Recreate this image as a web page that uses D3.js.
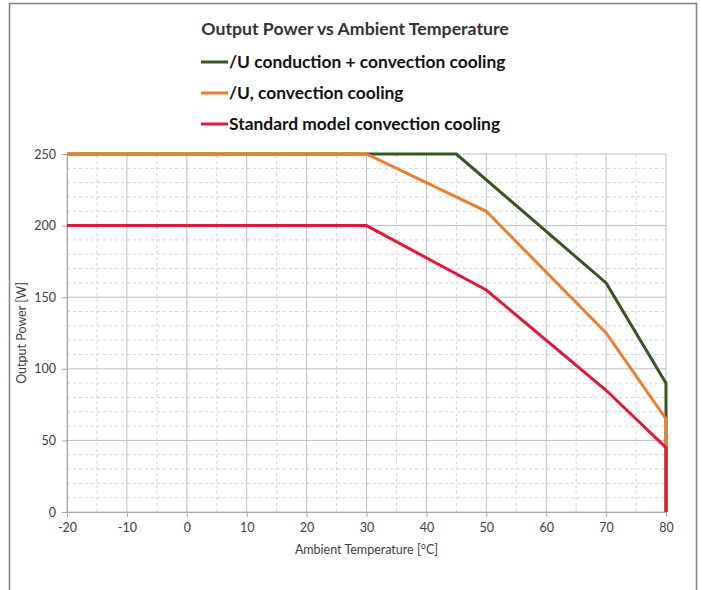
<!DOCTYPE html>
<html>
<head>
<meta charset="utf-8">
<script src="https://cdn.jsdelivr.net/npm/d3@7"></script>
<style>
  body { margin: 0; background: #fff; }
  text { font-family: Lato, "Open Sans", sans-serif; }
</style>
</head>
<body>
<div id="chart"></div>
<script>
// series values
var seriesNames = ['/U conduction + convection cooling', '/U, convection cooling', 'Standard model convection cooling'];
var seriesColors = ['#375623', '#ed7d31', '#e3173a'];
var greenTemp = [-20, 45, 70, 80, 80];
var greenPower = [250, 250, 160, 90, 0];
var orangeTemp = [-20, 30, 50, 70, 80, 80];
var orangePower = [250, 250, 210, 125, 65, 0];
var redTemp = [-20, 30, 50, 70, 80, 80];
var redPower = [200, 200, 155, 85, 45, 0];
var xTicks = [-20, -10, 0, 10, 20, 30, 40, 50, 60, 70, 80];
var yTicks = [0, 50, 100, 150, 200, 250];

var width = 702, height = 590;
var margin = {top: 154, right: 36, bottom: 78, left: 67};

var svg = d3.select('#chart').append('svg')
    .attr('width', width).attr('height', height);

// outer frame
svg.append('rect')
    .attr('x', 9.5).attr('y', 3.5)
    .attr('width', 687).attr('height', 600)
    .attr('fill', 'none').attr('stroke', '#808080').attr('stroke-width', 1.5);

var x = d3.scaleLinear().domain([-20, 80]).range([margin.left, width - margin.right]);
var y = d3.scaleLinear().domain([0, 250]).range([height - margin.bottom, margin.top]);

// minor grid (dashed)
var g = svg.append('g').attr('class', 'grid');
g.selectAll('.vminor')
    .data(d3.range(-15, 80, 10))
    .join('line')
    .attr('x1', d => x(d)).attr('x2', d => x(d))
    .attr('y1', y(0)).attr('y2', y(250))
    .attr('stroke', '#d4d4d4').attr('stroke-dasharray', '3,3');
g.selectAll('.hminor')
    .data(d3.range(10, 250, 10).filter(d => d % 50 != 0))
    .join('line')
    .attr('x1', x(-20)).attr('x2', x(80))
    .attr('y1', d => y(d)).attr('y2', d => y(d))
    .attr('stroke', '#d4d4d4').attr('stroke-dasharray', '3,3');

// major grid
g.selectAll('.vmajor')
    .data(xTicks)
    .join('line')
    .attr('x1', d => x(d)).attr('x2', d => x(d))
    .attr('y1', y(0)).attr('y2', y(250))
    .attr('stroke', '#bfbfbf');
g.selectAll('.hmajor')
    .data(yTicks)
    .join('line')
    .attr('x1', x(-20)).attr('x2', x(80))
    .attr('y1', d => y(d)).attr('y2', d => y(d))
    .attr('stroke', '#bfbfbf');

// axes (plain hyphen for negatives, like the original)
var fmt = d => String(d);
var xAxis = svg.append('g')
    .attr('transform', `translate(0,${y(0)})`)
    .call(d3.axisBottom(x).tickValues(xTicks).tickFormat(fmt).tickSize(5).tickPadding(6));
var yAxis = svg.append('g')
    .attr('transform', `translate(${x(-20)},0)`)
    .call(d3.axisLeft(y).tickValues(yTicks).tickFormat(fmt).tickSize(5).tickPadding(6));
[xAxis, yAxis].forEach(a => {
    a.selectAll('path, line').attr('stroke', '#a6a6a6');
    a.selectAll('text').attr('font-size', 12.5).attr('fill', '#404040')
        .attr('font-family', 'Lato, sans-serif');
});

// lines
var line = d3.line().x(d => x(d[0])).y(d => y(d[1]));
var series = [
    d3.zip(greenTemp, greenPower),
    d3.zip(orangeTemp, orangePower),
    d3.zip(redTemp, redPower)
];
svg.append('g').selectAll('path')
    .data(series)
    .join('path')
    .attr('d', line)
    .attr('fill', 'none')
    .attr('stroke', (d, i) => seriesColors[i])
    .attr('stroke-width', 3);

// title
svg.append('text')
    .attr('x', 355).attr('y', 35)
    .attr('text-anchor', 'middle')
    .attr('font-size', 17.7).attr('font-weight', 'bold').attr('fill', '#333')
    .text('Output Power vs Ambient Temperature');

// legend
var legend = svg.append('g').selectAll('g')
    .data(seriesNames)
    .join('g')
    .attr('transform', (d, i) => `translate(201,${62 + i * 31})`);
legend.append('line')
    .attr('x1', 0).attr('x2', 27)
    .attr('stroke', (d, i) => seriesColors[i]).attr('stroke-width', 3);
legend.append('text')
    .attr('x', 28).attr('y', 6)
    .attr('font-size', 17.4).attr('font-weight', 'bold').attr('fill', '#111')
    .text(d => d);

// axis titles
svg.append('text')
    .attr('transform', `translate(26,${(y(0) + y(250)) / 2}) rotate(-90)`)
    .attr('text-anchor', 'middle')
    .attr('font-size', 12.5).attr('fill', '#404040')
    .text('Output Power [W]');
svg.append('text')
    .attr('x', (x(-20) + x(80)) / 2).attr('y', 554)
    .attr('text-anchor', 'middle')
    .attr('font-size', 12.5).attr('fill', '#404040')
    .text('Ambient Temperature [°C]');
</script>
</body>
</html>
